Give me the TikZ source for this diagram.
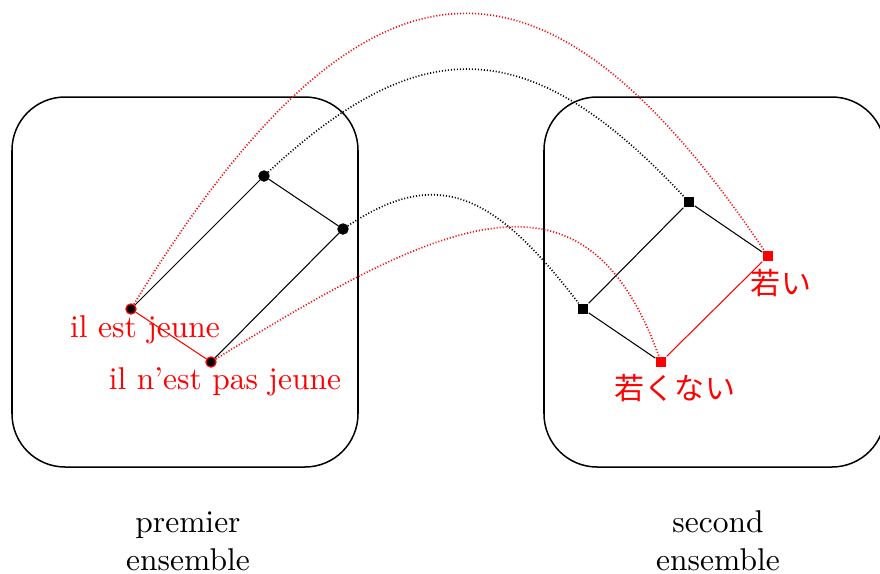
\documentclass[tikz,border=0pt]{standalone}
\usepackage{fontspec}
\newfontfamily\jpfont{Noto Sans CJK JP}
\begin{document}
\begin{tikzpicture}[x=0.3333pt,y=-0.3333pt,
  ensemble/.style={draw=black,line width=0.5pt,rounded corners=17.7pt},
  rond/.style={circle,fill=black,draw=black,inner sep=0pt,minimum size=3.4pt},
  rondrouge/.style={rond,draw=red,line width=0.4pt},
  carre/.style={rectangle,fill=black,inner sep=0pt,minimum size=3.4pt},
  carrerouge/.style={carre,fill=red},
  trait/.style={line width=0.35pt},
  pointille/.style={line width=0.55pt,dash pattern=on 0.35pt off 0.65pt},
  etiq/.style={font=\fontsize{10.5}{12.6}\selectfont,inner sep=0pt},
  etiqjp/.style={font=\jpfont\fontsize{10}{12}\selectfont,inner sep=0pt,text=red}]
\useasboundingbox (0,0) rectangle (880,574);
% boxes
\draw[ensemble] (12,97) rectangle (358,467);
\draw[ensemble] (544,97) rectangle (885,467);
% left nodes
\node[rond] (a) at (264,176) {};
\node[rond] (b) at (343,229) {};
\node[rondrouge] (c) at (131,309) {};
\node[rondrouge] (d) at (211,362) {};
% right nodes
\node[carre] (e) at (689,202) {};
\node[carre] (f) at (583,309) {};
\node[carrerouge] (g) at (768,256) {};
\node[carrerouge] (h) at (661,362) {};
% edges
\draw[trait] (c) -- (a);
\draw[trait] (a) -- (b);
\draw[trait] (b) -- (d);
\draw[trait,red] (c) -- (d);
\draw[trait] (f) -- (e);
\draw[trait] (e) -- (g);
\draw[trait] (f) -- (h);
\draw[trait,red] (h) -- (g);
% curves
\draw[pointille] (a) .. controls (422,29) and (531,33) .. (e);
\draw[pointille] (b) .. controls (438,166) and (494,193) .. (f);
\draw[pointille,red] (c) .. controls (375,-90) and (555,-59) .. (g);
\draw[pointille,red] (d) .. controls (449,214) and (586,155) .. (h);
% labels
\node[etiq,text=red] (la) at (145,330) {il est jeune};
\node[etiq,text=red] (lb) at (225,382) {il n'est pas jeune};
\node[etiqjp] (lc) at (781,283) {若い};
\node[etiqjp] (ld) at (675,388) {若くない};
\node[etiq,align=center] (p1) at (188,541) {premier\\ensemble};
\node[etiq,align=center] (p2) at (718,541) {second\\ensemble};
\end{tikzpicture}
\end{document}
